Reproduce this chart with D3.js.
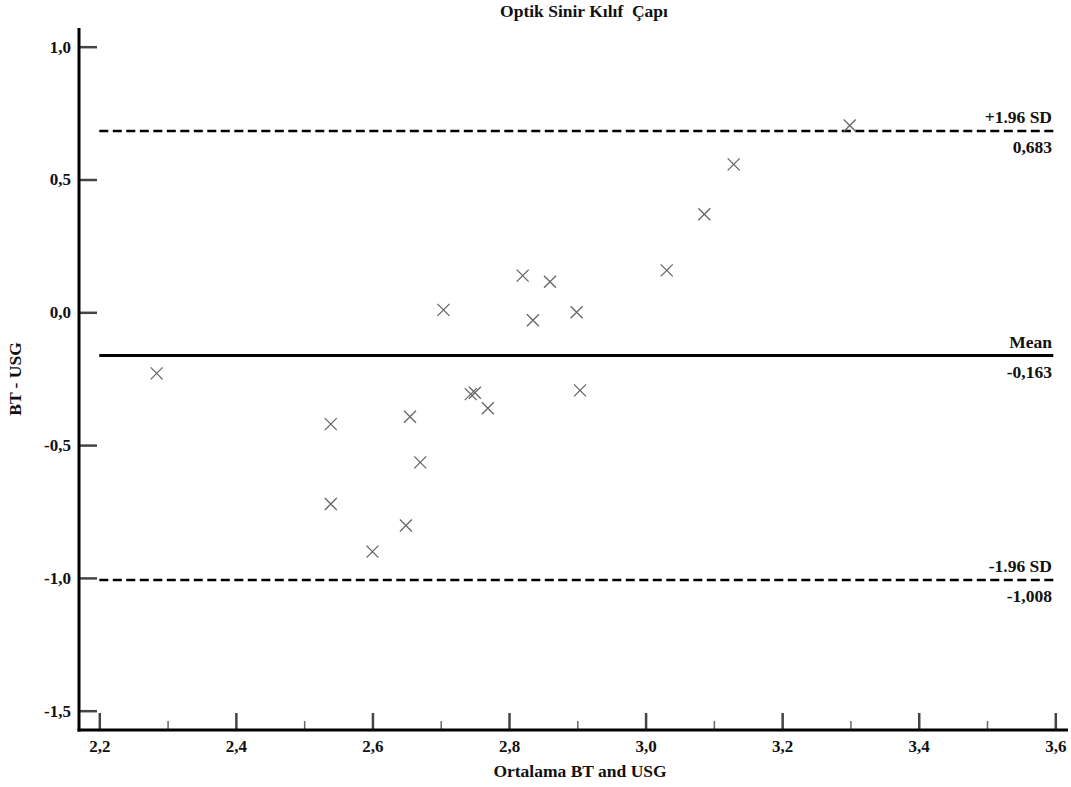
<!DOCTYPE html>
<html>
<head>
<meta charset="utf-8">
<script src="https://cdn.jsdelivr.net/npm/d3@7"></script>
<style>
  body { margin: 0; background: #fff; }
  svg text { font-family: "Liberation Serif", "Times New Roman", serif; font-weight: bold; fill: #111; white-space: pre; }
</style>
</head>
<body>
<svg id="chart" width="1071" height="787"></svg>
<script>
// mean of BT and USG (x) and difference BT - USG (y)
var meanVals = [2.284, 2.539, 2.539, 2.600, 2.649, 2.655, 2.670, 2.704, 2.744, 2.750,
                2.769, 2.820, 2.835, 2.860, 2.899, 2.904, 3.031, 3.086, 3.129, 3.299];
var diffVals = [-0.230, -0.421, -0.722, -0.901, -0.803, -0.393, -0.565, 0.009, -0.308, -0.303,
                -0.361, 0.138, -0.030, 0.115, 0.000, -0.294, 0.158, 0.369, 0.557, 0.703];

var xTicks = [2.2, 2.4, 2.6, 2.8, 3.0, 3.2, 3.4, 3.6];
var xMinorTicks = [2.3, 2.5, 2.7, 2.9, 3.1, 3.3, 3.5];
var yTicks = [-1.5, -1.0, -0.5, 0.0, 0.5, 1.0];

var refNames = ["+1.96 SD", "Mean", "-1.96 SD"];
var refValues = [0.683, -0.163, -1.008];

var title = "Optik Sinir Kılıf  Çapı";
var xTitle = "Ortalama BT and USG";
var yTitle = "BT - USG";

var svg = d3.select("#chart");

// plot frame
var plotLeft = 79, plotBottom = 730, plotTop = 28, plotRight = 1068;

var x = d3.scaleLinear().domain([2.2, 3.6]).range([99.3, 1055.3]);
var y = d3.scaleLinear().domain([-1.5, 1.0]).range([710.7, 46.7]);

var fmt = function (d) { return d3.format(".1f")(d).replace(".", ",").replace("\u2212", "-"); };
var fmt3 = function (d) { return d3.format(".3f")(d).replace(".", ",").replace("\u2212", "-"); };

// x axis (ticks pointing up, labels below)
var xAxisG = svg.append("g")
  .attr("transform", "translate(0," + plotBottom + ")")
  .call(d3.axisBottom(x).tickValues(xTicks).tickFormat(fmt).tickSizeInner(-17).tickSizeOuter(0).tickPadding(10))
  .call(function (g) { g.select(".domain").remove(); });
xAxisG.selectAll(".tick line").attr("stroke", "#444").attr("stroke-width", 2.5);
xAxisG.selectAll(".tick text").attr("font-size", 17).attr("fill", "#111");

var xMinorG = svg.append("g")
  .attr("transform", "translate(0," + plotBottom + ")")
  .call(d3.axisBottom(x).tickValues(xMinorTicks).tickFormat("").tickSizeInner(-9).tickSizeOuter(0))
  .call(function (g) { g.select(".domain").remove(); });
xMinorG.selectAll(".tick line").attr("stroke", "#666").attr("stroke-width", 1.5);

// y axis (ticks pointing right, labels left)
var yAxisG = svg.append("g")
  .attr("transform", "translate(" + plotLeft + ",0)")
  .call(d3.axisLeft(y).tickValues(yTicks).tickFormat(fmt).tickSizeInner(-18).tickSizeOuter(0).tickPadding(8))
  .call(function (g) { g.select(".domain").remove(); });
yAxisG.selectAll(".tick line").attr("stroke", "#444").attr("stroke-width", 2.5);
yAxisG.selectAll(".tick text").attr("font-size", 17).attr("fill", "#111");

// axis lines
svg.append("line")
  .attr("x1", plotLeft).attr("x2", plotLeft).attr("y1", plotTop).attr("y2", plotBottom + 1.5)
  .attr("stroke", "#000").attr("stroke-width", 3);
svg.append("line")
  .attr("x1", plotLeft - 1.5).attr("x2", plotRight).attr("y1", plotBottom).attr("y2", plotBottom)
  .attr("stroke", "#000").attr("stroke-width", 3);

// reference lines
var refs = refNames.map(function (n, i) { return { name: n, value: refValues[i] }; });
svg.selectAll("line.ref")
  .data(refs)
  .enter()
  .append("line")
  .attr("class", "ref")
  .attr("x1", x(2.2))
  .attr("x2", x(3.6) - 2)
  .attr("y1", function (d) { return y(d.value); })
  .attr("y2", function (d) { return y(d.value); })
  .attr("stroke", "#000")
  .attr("stroke-width", function (d) { return d.name == "Mean" ? 3 : 2.5; })
  .attr("stroke-dasharray", function (d) { return d.name == "Mean" ? null : "9,4.5"; });

svg.selectAll("text.refname")
  .data(refs)
  .enter()
  .append("text")
  .attr("class", "refname")
  .attr("x", 1052)
  .attr("y", function (d) { return y(d.value) - 8; })
  .attr("text-anchor", "end")
  .attr("font-size", 17.5)
  .text(function (d) { return d.name; });

svg.selectAll("text.refval")
  .data(refs)
  .enter()
  .append("text")
  .attr("class", "refval")
  .attr("x", 1052)
  .attr("y", function (d) { return y(d.value) + 22; })
  .attr("text-anchor", "end")
  .attr("font-size", 17.5)
  .text(function (d) { return fmt3(d.value); });

// points drawn as x markers
var pts = meanVals.map(function (m, i) { return { m: m, d: diffVals[i] }; });
var s = 6;
svg.selectAll("path.pt")
  .data(pts)
  .enter()
  .append("path")
  .attr("class", "pt")
  .attr("d", function (p) {
    var cx = x(p.m), cy = y(p.d);
    return "M" + (cx - s) + "," + (cy - s) + "L" + (cx + s) + "," + (cy + s) +
      "M" + (cx - s) + "," + (cy + s) + "L" + (cx + s) + "," + (cy - s);
  })
  .attr("fill", "none")
  .attr("stroke", "#666")
  .attr("stroke-width", 1.3);

// titles
svg.append("text")
  .attr("x", 584).attr("y", 17)
  .attr("text-anchor", "middle")
  .attr("font-size", 17.5)
  .text(title);

svg.append("text")
  .attr("x", 580).attr("y", 777)
  .attr("text-anchor", "middle")
  .attr("font-size", 17.5)
  .text(xTitle);

svg.append("text")
  .attr("transform", "translate(21,379) rotate(-90)")
  .attr("text-anchor", "middle")
  .attr("font-size", 17.5)
  .text(yTitle);
</script>
</body>
</html>
